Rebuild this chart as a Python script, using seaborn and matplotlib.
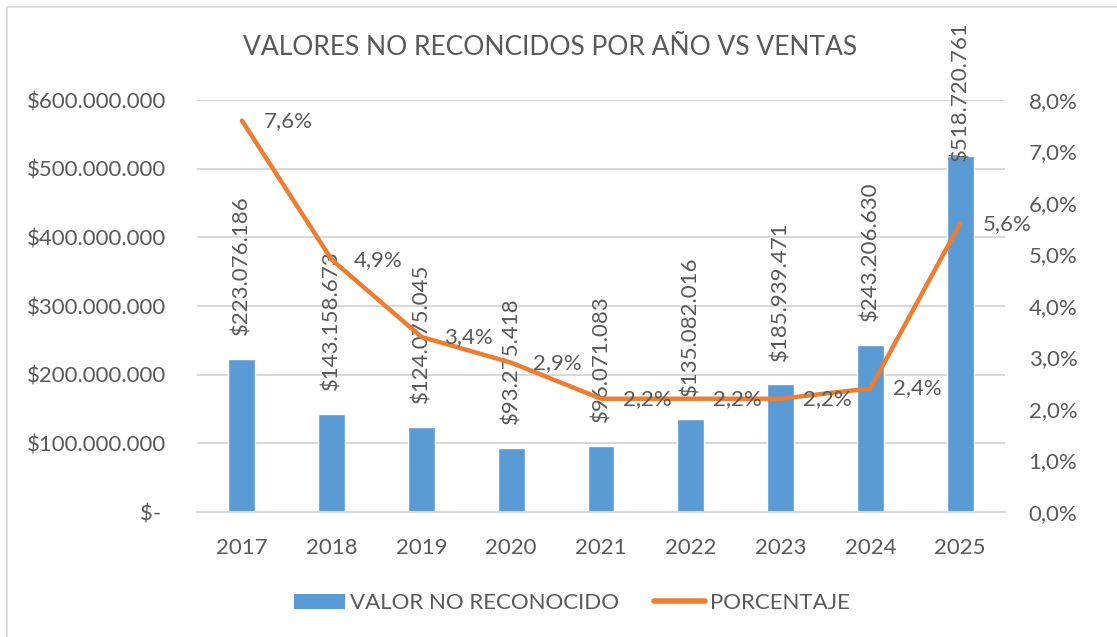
import numpy as np
import pandas as pd
import matplotlib
matplotlib.use("Agg")
import matplotlib.pyplot as plt
from matplotlib.ticker import FuncFormatter, MultipleLocator
from matplotlib.patches import Rectangle
from matplotlib.lines import Line2D
from matplotlib.patches import Patch
import seaborn as sns

# ========== Data ==========
years = ["2017", "2018", "2019", "2020", "2021", "2022", "2023", "2024", "2025"]
valor_no_reconocido = [223076186, 143158673, 124075045, 93275418, 96071083,
                       135082016, 185939471, 243206630, 518720761]
porcentaje = [7.6, 4.9, 3.4, 2.9, 2.2, 2.2, 2.2, 2.4, 5.6]

bar_color = "#5b9bd5"
line_color = "#ed7d31"
text_color = "#595959"
grid_color = "#d9d9d9"

df = pd.DataFrame({"year": years, "valor": valor_no_reconocido, "pct": porcentaje})

sns.set_style("white")
plt.rcParams["font.family"] = ["Lato", "DejaVu Sans"]

def miles(v):
    return f"{v:,.0f}".replace(",", ".")

# ========== Figure ==========
fig = plt.figure(figsize=(11.17, 6.37), dpi=100)
ax = fig.add_axes([0.1764, 0.1962, 0.7233, 0.6468])

sns.barplot(data=df, x="year", y="valor", color=bar_color, width=0.3,
            saturation=1, ax=ax)
ax.set_ylim(0, 600_000_000)
ax.yaxis.set_major_locator(MultipleLocator(100_000_000))
ax.yaxis.set_major_formatter(FuncFormatter(lambda v, p: "$- " if v == 0 else "$" + miles(v)))
ax.grid(axis="y", color=grid_color, lw=1.5)
ax.set_axisbelow(True)
for s in ["top", "right", "left"]:
    ax.spines[s].set_visible(False)
ax.spines["bottom"].set_color(grid_color)
ax.spines["bottom"].set_linewidth(1.5)
ax.tick_params(axis="y", length=0, pad=22, labelsize=16, labelcolor=text_color)
ax.tick_params(axis="x", length=0, pad=19, labelsize=16, labelcolor=text_color)
ax.set_xlabel("")
ax.set_ylabel("")
ax.set_xlim(-0.5, len(years) - 0.5)

# bar value labels (rotated)
for i, v in enumerate(valor_no_reconocido):
    off = -4 if v > 450_000_000 else 17
    ax.annotate("$" + miles(v), (i, v), xytext=(0, off), textcoords="offset points",
                rotation=90, ha="center", va="bottom", fontsize=16, color=text_color)

# ========== Percentage line ==========
ax2 = ax.twinx()
sns.lineplot(data=df, x="year", y="pct", color=line_color, lw=3.2, ax=ax2,
             solid_capstyle="round", solid_joinstyle="round")
ax2.set_ylim(0, 8)
ax2.yaxis.set_major_locator(MultipleLocator(1))
ax2.yaxis.set_major_formatter(FuncFormatter(lambda v, p: f"{v:.1f}%".replace(".", ",")))
ax2.tick_params(axis="y", length=0, pad=17, labelsize=16, labelcolor=text_color)
for s in ax2.spines.values():
    s.set_visible(False)
ax2.set_xlabel("")
ax2.set_ylabel("")
ax2.set_xlim(-0.5, len(years) - 0.5)

for i, p in enumerate(porcentaje):
    ax2.annotate(f"{p:.1f}%".replace(".", ","), (i, p), xytext=(16, 0),
                 textcoords="offset points", ha="left", va="center",
                 fontsize=16, color=text_color)

# ========== Title & legend ==========
fig.text(0.4925, 0.925, "VALORES NO RECONCIDOS POR AÑO VS VENTAS", ha="center",
         va="center", fontsize=19, color=text_color)

handles = [Patch(facecolor=bar_color, edgecolor="none"),
           Line2D([0], [0], color=line_color, lw=4, solid_capstyle="round")]
fig.legend(handles, ["VALOR NO RECONOCIDO", "PORCENTAJE"], loc="center",
           bbox_to_anchor=(0.512, 0.053), ncol=2, frameon=False, fontsize=16,
           labelcolor=text_color, handlelength=2.3, handletextpad=0.2,
           columnspacing=1.6)

# light chart border (top and left edges visible)
fig.patches.append(Rectangle((7 / 1117, -0.1), 1.2, 1.1 - 7 / 637, transform=fig.transFigure,
                             fill=False, edgecolor="#d9d9d9", lw=1.2))

fig.savefig("out.png", dpi=100)
